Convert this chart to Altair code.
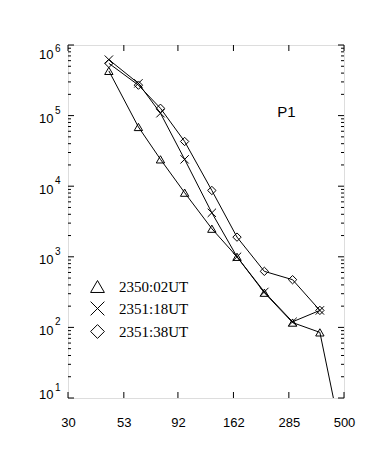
import altair as alt
import pandas as pd

energy = [45.5, 61.5, 77, 98.5, 130, 168, 222, 296, 391]
flux_0002 = [4.3e5, 6.9e4, 2.4e4, 8.1e3, 2.5e3, 1.0e3, 310, 117, 85]
flux_0118 = [6.2e5, 2.86e5, 1.08e5, 2.4e4, 4.2e3, 1.0e3, 318, 120, 174]
flux_0138 = [5.5e5, 2.7e5, 1.27e5, 4.3e4, 8.7e3, 1.9e3, 622, 474, 174]
tail_energy = [460]
tail_flux_0002 = [6.8]
series = ["2350:02UT", "2351:18UT", "2351:38UT"]
x_ticks = [30, 53, 92, 162, 285, 500]
y_major = [10, 100, 1000, 1e4, 1e5, 1e6]
y_exponents = ["1", "2", "3", "4", "5", "6"]
y_minor = [m * d for d in [10, 100, 1000, 1e4, 1e5] for m in range(2, 10)]
panel_label = "P1"
panel_pos = (278, 1.12e5)

W, H = 276, 353

rows = []
for name, vals in zip(series, [flux_0002, flux_0118, flux_0138]):
    for i, (e, v) in enumerate(zip(energy, vals)):
        rows.append({"series": name, "E": e, "F": v, "order": i, "marker": True})
for e, v in zip(tail_energy, tail_flux_0002):
    rows.append({"series": series[0], "E": e, "F": v, "order": 99, "marker": False})
df = pd.DataFrame(rows)

xs = alt.Scale(type="log", domain=[30, 500], nice=False)
ys = alt.Scale(type="log", domain=[10, 1e6], nice=False)

xax = alt.Axis(values=x_ticks, format="d", ticks=False, domain=False, grid=False,
               labelFont="Liberation Sans", labelFontSize=13, labelColor="black",
               labelPadding=18, labelOverlap=False, labelFlush=False, title=None)
yax = alt.Axis(values=y_major, ticks=False, domain=False, grid=False,
               labelExpr="'10'", labelOffset=3,
               labelFont="Liberation Sans", labelFontSize=13, labelColor="black",
               labelPadding=15, labelFlush=True, labelOverlap=False, title=None)

base = alt.Chart(df)

lines = base.mark_line(color="black", strokeWidth=1, clip=True).encode(
    x=alt.X("E:Q", scale=xs, axis=xax),
    y=alt.Y("F:Q", scale=ys, axis=yax),
    detail="series:N",
    order="order:Q",
)

shape_scale = alt.Scale(domain=series,
                        range=["triangle-up", "M-1,-1L1,1M-1,1L1,-1", "diamond"])
points = base.transform_filter("datum.marker").mark_point(
    filled=False, color="black", strokeWidth=1, size=70, opacity=1
).encode(
    x=alt.X("E:Q", scale=xs),
    y=alt.Y("F:Q", scale=ys),
    shape=alt.Shape("series:N", scale=shape_scale,
                    legend=alt.Legend(title=None, orient="none", legendX=22, legendY=234,
                                      padding=0, symbolSize=190, symbolStrokeWidth=1,
                                      symbolStrokeColor="black", symbolFillColor="transparent",
                                      labelFont="Liberation Serif", labelFontSize=15,
                                      labelColor="black", labelOffset=14, rowPadding=4)),
)

xt = pd.DataFrame({"t": x_ticks})
ymaj = pd.DataFrame({"v": y_major})
ymin = pd.DataFrame({"v": y_minor})
yexp = pd.DataFrame({"v": y_major, "e": y_exponents})

def xtick(y0, y1):
    return alt.Chart(xt).mark_rule(color="black", strokeWidth=1).encode(
        x=alt.X("t:Q", scale=xs), y=alt.value(y0), y2=alt.value(y1))

def ytick(d, x0, x1):
    return alt.Chart(d).mark_rule(color="black", strokeWidth=1).encode(
        y=alt.Y("v:Q", scale=ys), x=alt.value(x0), x2=alt.value(x1))

def exp_layer(cond, dy):
    return alt.Chart(yexp).transform_filter(cond).mark_text(
        font="Liberation Sans", fontSize=10, color="black", align="left",
        baseline="middle", dy=dy
    ).encode(y=alt.Y("v:Q", scale=ys), x=alt.value(-13), text="e:N")

ticks = [
    xtick(H, H - 6), xtick(0, 6),
    ytick(ymaj, 0, 6), ytick(ymaj, W, W - 6),
    ytick(ymin, 0, 3), ytick(ymin, W, W - 3),
]
exps = [
    exp_layer("datum.v > 20 && datum.v < 5e5", -5),
    exp_layer("datum.v > 5e5", 4),
    exp_layer("datum.v < 20", -10),
]

ann = alt.Chart(pd.DataFrame({"E": [panel_pos[0]], "F": [panel_pos[1]], "t": [panel_label]})).mark_text(
    font="Liberation Sans", fontSize=15, color="black", align="center", baseline="middle"
).encode(x=alt.X("E:Q", scale=xs), y=alt.Y("F:Q", scale=ys), text="t:N")

chart = alt.layer(lines, points, ann, *ticks, *exps).properties(
    width=W, height=H,
    autosize=alt.AutoSizeParams(type="none"),
    padding={"left": 60, "top": 37, "right": 20, "bottom": 60},
).configure_view(stroke="black", strokeWidth=1.5).configure(background="white")

chart.save("out.html", embed_options={"renderer": "svg", "actions": False})
